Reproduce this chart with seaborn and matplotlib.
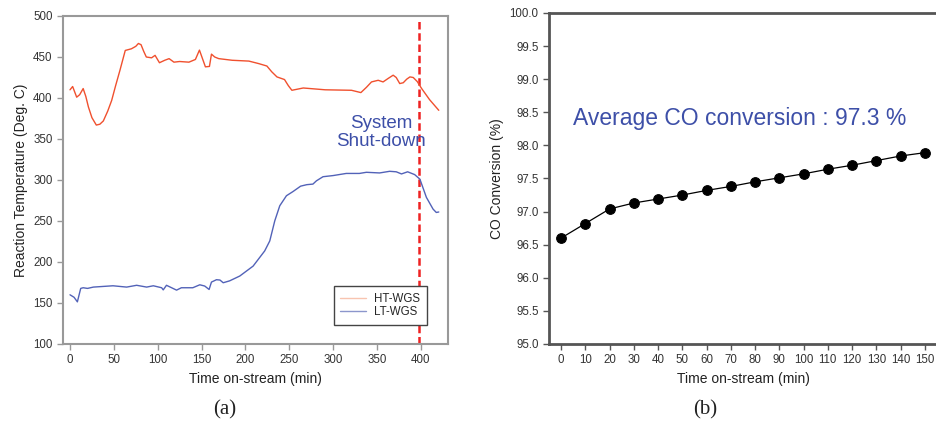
import numpy as np
import pandas as pd
import matplotlib
matplotlib.use("Agg")
import matplotlib.pyplot as plt
import seaborn as sns

# (a) reaction temperature traces
ht_time = [0, 3, 7.6, 11, 15, 18, 21, 25, 30, 34, 38, 43, 47.5, 52, 57, 63, 70, 75, 78,
           81, 84, 87, 93, 97, 102, 108, 113, 118.5, 125, 135.6, 143, 147.6, 154.4, 159,
           161.3, 165, 169.6, 185, 204, 215, 224.5, 230, 236, 244.6, 249, 253, 266, 291,
           321, 331.7, 338, 343.8, 351.4, 357, 363, 368.5, 372, 376, 380, 384, 387.6,
           391.4, 396, 401, 410, 420.5]
ht_temp = [410, 414, 401, 404, 411.5, 402, 389, 376, 367, 368, 372, 384, 397, 415, 434,
           458, 460, 463, 466.5, 465, 457, 450, 449, 452, 443, 446, 448, 443.7, 444.5,
           443.7, 447, 458.4, 438, 438.5, 453.5, 450, 448, 446, 445, 442, 439, 432, 425.7,
           422.5, 415, 409.4, 412.2, 410, 409.4, 406.6, 413, 419.6, 421.6, 419.6, 424,
           427.8, 425, 417.6, 418.6, 423, 425.7, 425, 420, 411.5, 398, 385]

lt_time = [0, 4.6, 8.4, 12.2, 15, 20, 26.6, 49, 64.6, 76, 87.4, 95, 104.5, 106.3, 110,
           121.5, 127, 140, 148, 153.6, 158.6, 161.3, 167, 171, 174.7, 182, 193.6, 208.8,
           222, 227.8, 233.5, 239.2, 246.8, 254.4, 263, 270, 277, 281, 288.5, 300, 315,
           330, 338, 353, 364.5, 372, 378, 385, 393, 399, 406.4, 414, 417.7, 420.5]
lt_temp = [160, 157, 151.4, 167.8, 168.6, 167.8, 169.4, 171, 169.4, 171.6, 169.4, 171,
           168.6, 166, 171.6, 165.7, 168.6, 168.6, 172.2, 170.7, 166.5, 175.5, 178.4, 178,
           174.7, 177, 182.9, 195, 213.5, 225.7, 250.2, 268.6, 280.8, 286, 292.5, 294.3,
           295, 299, 304, 305.4, 308, 308, 309.4, 308.6, 310.6, 310, 307.4, 310, 306.6,
           301, 278.8, 264.5, 260.4, 261]

shutdown_time = 398

# (b) CO conversion
co_time = [0, 10, 20, 30, 40, 50, 60, 70, 80, 90, 100, 110, 120, 130, 140, 150]
co_conv = [96.6, 96.82, 97.04, 97.13, 97.19, 97.25, 97.32, 97.38, 97.45, 97.51,
           97.57, 97.64, 97.70, 97.77, 97.84, 97.89]

red = "#f0502e"
blue = "#5262b8"
txt_blue = "#3d4fa8"

sns.set_style("ticks")
plt.rcParams['font.family'] = ['Liberation Sans', 'DejaVu Sans']

fig = plt.figure(figsize=(9.36, 4.30), dpi=100)
ax1 = fig.add_axes([0.0673, 0.2, 0.4113, 0.7628])
ax2 = fig.add_axes([0.5865, 0.2, 0.4145, 0.7698])

df_a = pd.concat([
    pd.DataFrame({"time": ht_time, "temp": ht_temp, "series": "HT-WGS"}),
    pd.DataFrame({"time": lt_time, "temp": lt_temp, "series": "LT-WGS"}),
])
sns.lineplot(data=df_a, x="time", y="temp", hue="series", estimator=None,
             palette={"HT-WGS": red, "LT-WGS": blue}, linewidth=1.0, ax=ax1)
ax1.vlines(shutdown_time, 100, 494, colors="#ee2222", linestyles=(0, (3, 1.5)),
           linewidth=1.8, zorder=1)
ax1.set_xlim(-8, 431)
ax1.set_ylim(100, 500)
ax1.set_xticks(np.arange(0, 401, 50))
ax1.set_yticks(np.arange(100, 501, 50))
ax1.set_xlabel("Time on-stream (min)", fontsize=10, color="#222222")
ax1.set_ylabel("Reaction Temperature (Deg. C)", fontsize=10, color="#222222")
for s in ax1.spines.values():
    s.set_color("#999999")
    s.set_linewidth(1.5)
ax1.tick_params(colors="#999999", labelcolor="#333333", labelsize=8.3, length=4, width=1)
ax1.text(355, 358, "System\nShut-down", color=txt_blue, fontsize=13.5,
         ha="center", va="center", linespacing=1.05)

leg = ax1.legend(title=None, loc="lower right", bbox_to_anchor=(0.945, 0.058),
                 fontsize=8.3, fancybox=False, framealpha=1, edgecolor="#444444",
                 handlelength=2.2, handletextpad=0.7, borderpad=0.6, labelspacing=0.1,
                 borderaxespad=0)
leg.get_frame().set_linewidth(1)
leg_colors = ["#f8c4b0", "#8c96cc"]
for h, c in zip(leg.get_lines(), leg_colors):
    h.set_color(c)
leg.set_zorder(5)

sns.lineplot(x=co_time, y=co_conv, color="black", linewidth=0.9, marker="o",
             markersize=7, markeredgecolor="black", ax=ax2)
ax2.set_xlim(-5, 155)
ax2.set_ylim(95, 100)
ax2.set_xticks(co_time)
ax2.set_yticks(np.arange(95, 100.01, 0.5))
ax2.yaxis.set_major_formatter(matplotlib.ticker.FormatStrFormatter("%.1f"))
ax2.set_xlabel("Time on-stream (min)", fontsize=10, color="#222222")
ax2.set_ylabel("CO Conversion (%)", fontsize=10, color="#222222")
for s in ax2.spines.values():
    s.set_color("#555555")
    s.set_linewidth(2)
ax2.tick_params(colors="#555555", labelcolor="#333333", labelsize=8.3, length=4, width=1)
ax2.text(5, 98.4, "Average CO conversion : 97.3 %", color=txt_blue, fontsize=16.5,
         ha="left", va="center")

fig.text(225 / 936, 1 - 410 / 430, "(a)", family=["Liberation Serif", "DejaVu Serif"],
         fontsize=15, ha="center", va="center", color="#222222")
fig.text(705 / 936, 1 - 410 / 430, "(b)", family=["Liberation Serif", "DejaVu Serif"],
         fontsize=15, ha="center", va="center", color="#222222")

fig.savefig("out.png", dpi=100)
